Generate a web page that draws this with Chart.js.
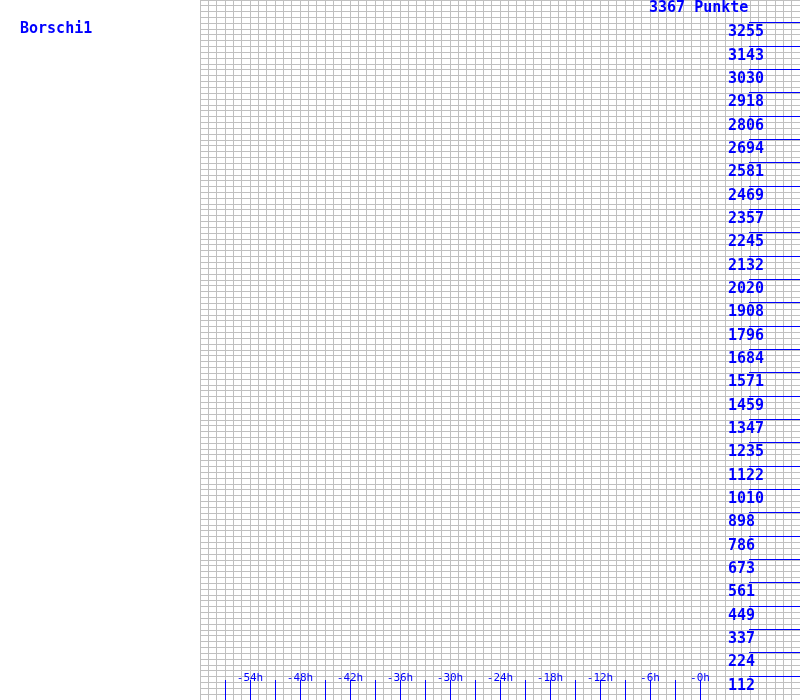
<!DOCTYPE html>
<html><head><meta charset="utf-8">
<style>html,body{margin:0;padding:0;background:#fff;} canvas{display:block;}</style>
<script src="https://cdn.jsdelivr.net/npm/chart.js@4.4.1/dist/chart.umd.min.js"></script>
</head><body>
<canvas id="c" width="800" height="700"></canvas>
<script>
const playerName = 'Borschi1';
const maxPoints = 3367;
const maxLabel = '3367 Punkte';
const yTickValues = [112,224,337,449,561,673,786,898,1010,1122,1235,1347,1459,1571,1684,1796,1908,2020,2132,2245,2357,2469,2581,2694,2806,2918,3030,3143,3255];
const xTickMarks = [-57,-54,-51,-48,-45,-42,-39,-36,-33,-30,-27,-24,-21,-18,-15,-12,-9,-6,-3,0];
const xLabelValues = [-54,-48,-42,-36,-30,-24,-18,-12,-6,0];
const xLabels = ['-54h','-48h','-42h','-36h','-30h','-24h','-18h','-12h','-6h','-0h'];
const xMin = -60, xMax = 12;
const xGridStep = 1;          // one grid column per hour
const yGridDivisions = 120;   // grid rows
const pointsHistory = [];     // no recorded points visible

const BLUE = '#0000ff';
const GRID = '#c0c0c0';

const labelPlugin = {
  id: 'labels',
  afterDraw(chart) {
    const ctx = chart.ctx;
    const xs = chart.scales.x, ys = chart.scales.y;
    ctx.save();
    ctx.fillStyle = BLUE;
    ctx.strokeStyle = BLUE;
    ctx.lineWidth = 1;
    ctx.textBaseline = 'alphabetic';
    ctx.font = 'bold 15px "DejaVu Sans Mono"';
    ctx.textAlign = 'left';
    ctx.fillText(playerName, 20, 33);
    ctx.fillText(maxLabel, 649, Math.round(ys.getPixelForValue(maxPoints)) + 12);
    yTickValues.forEach(v => {
      const py = Math.round(ys.getPixelForValue(v)) - 1 + 0.5;
      ctx.beginPath();
      ctx.moveTo(749, py);
      ctx.lineTo(800, py);
      ctx.stroke();
      ctx.fillText(String(v), 728, py + 13);
    });
    // x tick marks
    xTickMarks.forEach(h => {
      const px = Math.round(xs.getPixelForValue(h)) + 0.5;
      ctx.beginPath();
      ctx.moveTo(px, 680);
      ctx.lineTo(px, 700);
      ctx.stroke();
    });
    ctx.font = '11px "DejaVu Sans Mono"';
    ctx.textAlign = 'center';
    xLabelValues.forEach((h, i) => {
      const px = xs.getPixelForValue(h);
      ctx.fillText(xLabels[i], px, 681);
    });
    ctx.restore();
  }
};

new Chart(document.getElementById('c'), {
  type: 'line',
  data: { datasets: [{ data: pointsHistory, borderColor: BLUE, pointRadius: 0, borderWidth: 1 }] },
  options: {
    responsive: false,
    animation: false,
    devicePixelRatio: 1,
    layout: { padding: { left: 200, top: 0, right: 0, bottom: 0 } },
    plugins: { legend: { display: false }, tooltip: { enabled: false } },
    scales: {
      x: {
        type: 'linear', min: xMin, max: xMax,
        afterBuildTicks(scale) {
          const t = [];
          for (let h = xMin; h <= xMax; h += xGridStep) t.push({ value: h });
          scale.ticks = t;
        },
        grid: { color: GRID, lineWidth: 1, drawTicks: false },
        border: { display: false },
        ticks: { display: false }
      },
      y: {
        type: 'linear', min: 0, max: maxPoints,
        afterBuildTicks(scale) {
          const t = [];
          for (let i = 0; i <= yGridDivisions; i++) t.push({ value: maxPoints * i / yGridDivisions });
          scale.ticks = t;
        },
        grid: { color: GRID, lineWidth: 1, drawTicks: false },
        border: { display: false },
        ticks: { display: false }
      }
    }
  },
  plugins: [labelPlugin]
});
</script>
</body></html>
